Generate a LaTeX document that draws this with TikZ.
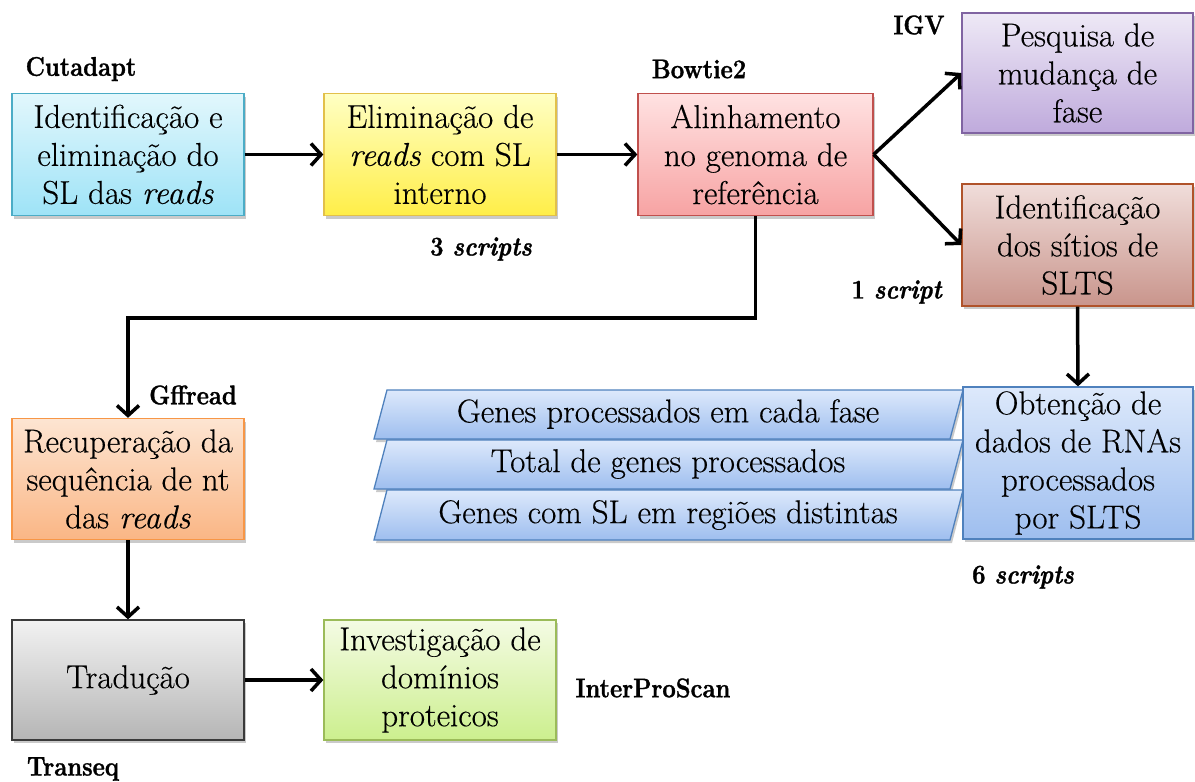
\documentclass[tikz,border=0pt]{standalone}
\usepackage{fontspec}
\setmainfont{Latin Modern Roman}
\newfontfamily\bodyfont{Latin Modern Roman}[FakeBold=0.35]
\newfontfamily\toolfont{Latin Modern Roman}[FakeStretch=0.88, BoldFeatures={FakeBold=1.2}, BoldItalicFeatures={FakeBold=1.2}]
\usetikzlibrary{arrows.meta,shadows}

% fill gradients (top / bottom) and borders
\definecolor{cyanT}{HTML}{E2F7FC}\definecolor{cyanB}{HTML}{9EE3F7}\definecolor{cyanD}{HTML}{4BACC6}
\definecolor{yelT}{HTML}{FFFFC4}\definecolor{yelB}{HTML}{FFEE48}\definecolor{yelD}{HTML}{E2C04A}
\definecolor{redT}{HTML}{FFE2E2}\definecolor{redB}{HTML}{F7A3A3}\definecolor{redD}{HTML}{C0504D}
\definecolor{purT}{HTML}{EEE9F6}\definecolor{purB}{HTML}{BFAADC}\definecolor{purD}{HTML}{8064A2}
\definecolor{brnT}{HTML}{F0DDDA}\definecolor{brnB}{HTML}{C9958C}\definecolor{brnD}{HTML}{B0532A}
\definecolor{bluT}{HTML}{DDE9FB}\definecolor{bluB}{HTML}{9EBEEF}\definecolor{bluD}{HTML}{4F81BD}
\definecolor{orgT}{HTML}{FDE5D2}\definecolor{orgB}{HTML}{FAB685}\definecolor{orgD}{HTML}{F79646}
\definecolor{gryT}{HTML}{F2F2F2}\definecolor{gryB}{HTML}{B5B5B5}\definecolor{gryD}{HTML}{3A3A3A}
\definecolor{grnT}{HTML}{F4FBE4}\definecolor{grnB}{HTML}{CCEF8E}\definecolor{grnD}{HTML}{9BBB59}

\begin{document}
\begin{tikzpicture}[x=1pt,y=-1pt,
  softshadow/.style={drop shadow={shadow xshift=2pt,shadow yshift=-3pt,opacity=0.35,fill=black!60}},
  box/.style={draw, line width=1.3pt, minimum width=232pt, minimum height=122pt,
    align=center, inner sep=0pt, font=\bodyfont\fontsize{33}{38}\selectfont, softshadow},
  fillc/.style n args={3}{top color=#1, bottom color=#2, draw=#3},
  paratext/.style={inner sep=0pt, font=\bodyfont\fontsize{33}{38}\selectfont},
  lbl/.style={inner sep=0pt, font=\toolfont\fontsize{27}{30}\selectfont\bfseries},
  flow/.style={line width=3.5pt, -{Straight Barb[length=10pt,width=22pt,line width=3.5pt]}},
]
\useasboundingbox (0,0) rectangle (1195,782);

% processing steps
\node[box, fillc={cyanT}{cyanB}{cyanD}] (cut) at (128,154.5) {Identificação e\\eliminação do\\SL das \textit{reads}};
\node[box, fillc={yelT}{yelB}{yelD}] (elim) at (440,154.5) {Eliminação de\\\textit{reads} com SL\\interno};
\node[box, fillc={redT}{redB}{redD}, minimum width=235pt] (aln) at (755.5,154.5) {Alinhamento\\no genoma de\\referência};
\node[box, fillc={purT}{purB}{purD}, minimum width=231pt, minimum height=120pt] (fase) at (1077.5,73) {Pesquisa de\\mudança de\\fase};
\node[box, fillc={brnT}{brnB}{brnD}, minimum width=231pt] (slts) at (1077.5,245) {Identificação\\dos sítios de\\SLTS};

% outputs of the SLTS step
\path[fillc={bluT}{bluB}{bluD}, line width=1.3pt, softshadow] (387,390) -- (963,390) -- (950,439) -- (374,439) -- cycle;
\path[fillc={bluT}{bluB}{bluD}, line width=1.3pt, softshadow] (387,440) -- (963,440) -- (950,489) -- (374,489) -- cycle;
\path[fillc={bluT}{bluB}{bluD}, line width=1.3pt, softshadow] (387,490) -- (963,490) -- (950,540) -- (374,540) -- cycle;
\node[paratext] (p1) at (668,414) {Genes processados em cada fase};
\node[paratext] (p2) at (668,464) {Total de genes processados};
\node[paratext] (p3) at (668,515) {Genes com SL em regiões distintas};

\node[box, fillc={bluT}{bluB}{bluD}, minimum width=230pt, minimum height=152pt] (rna) at (1078,463) {Obtenção de\\dados de RNAs\\processados\\por SLTS};

\node[box, fillc={orgT}{orgB}{orgD}, minimum height=121pt] (rec) at (128,479) {Recuperação da\\sequência de nt\\das \textit{reads}};
\node[box, fillc={gryT}{gryB}{gryD}, minimum height=120pt] (trad) at (128,680) {Tradução};
\node[box, fillc={grnT}{grnB}{grnD}, minimum height=120pt] (dom) at (440,680) {Investigação de\\domínios\\proteicos};

% tool labels
\node[lbl] (lcut) at (81,69) {Cutadapt};
\node[lbl] (lbow) at (699,69) {Bowtie2};
\node[lbl] (ligv) at (919,25) {IGV};
\node[lbl] (l3) at (481,249) {3 \textit{scripts}};
\node[lbl] (l1) at (897,292) {1 \textit{script}};
\node[lbl] (lgff) at (193,395) {Gffread};
\node[lbl] (l6) at (1023,577) {6 \textit{scripts}};
\node[lbl] (lips) at (653,688) {InterProScan};
\node[lbl] (ltrs) at (73,769) {Transeq};

% connectors
\coordinate (bend) at (128,318);
\draw[flow] (cut.east) -- (elim.west);
\draw[flow] (elim.east) -- (aln.west);
\draw[flow] (aln.east) -- (fase.west);
\draw[flow] (aln.east) -- (slts.west);
\draw[flow] (aln.south) |- (bend) -- (rec.north);
\draw[flow] (slts.south) -- (rna.north);
\draw[flow] (rec.south) -- (trad.north);
\draw[flow] (trad.east) -- (dom.west);
\end{tikzpicture}
\end{document}
